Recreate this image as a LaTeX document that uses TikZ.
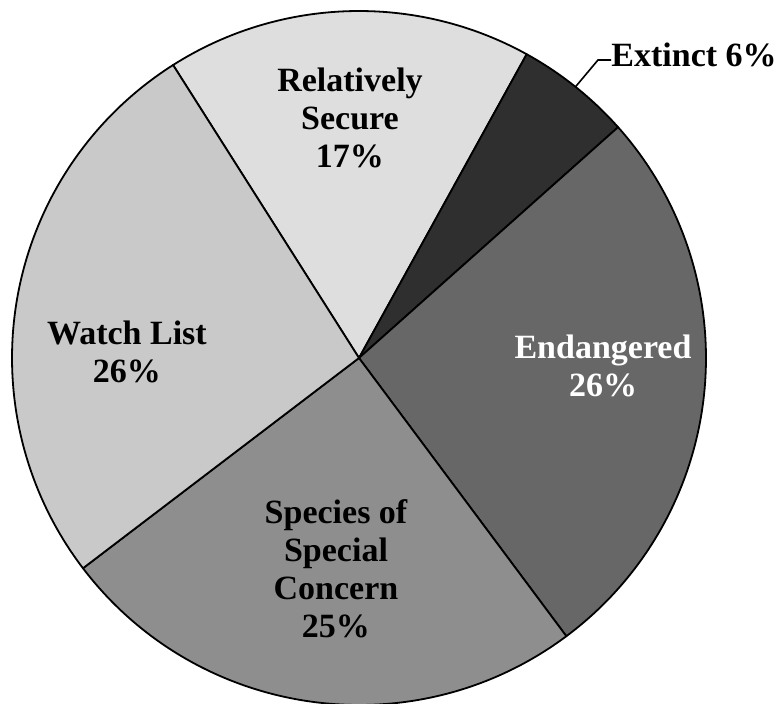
\documentclass[tikz,border=0pt]{standalone}
\usepackage{fontspec}
\setmainfont{Liberation Serif}

\definecolor{secure gray}{HTML}{DEDEDE}
\definecolor{extinct gray}{HTML}{2F2F2F}
\definecolor{endangered gray}{HTML}{676767}
\definecolor{concern gray}{HTML}{8E8E8E}
\definecolor{watch gray}{HTML}{C9C9C9}

\begin{document}
\begin{tikzpicture}[
    x=0.5pt, y=0.5pt,
    slice/.style={draw=black, line width=0.9pt, line join=round},
    pie label/.style={font=\bfseries\fontsize{17}{19}\selectfont, align=center, inner sep=0pt}
  ]
  \useasboundingbox (-359,-346) rectangle (417,358);

  \draw [slice, fill=secure gray]
    (0,0)
    -- (122.4:347)
    arc [start angle=122.4, end angle=61.1, radius=347]
    -- cycle
  ;

  \draw [slice, fill=extinct gray]
    (0,0)
    -- (61.1:347)
    arc [start angle=61.1, end angle=41.7, radius=347]
    -- cycle
  ;

  \draw [slice, fill=endangered gray]
    (0,0)
    -- (41.7:347)
    arc [start angle=41.7, end angle=-53.3, radius=347]
    -- cycle
  ;

  \draw [slice, fill=concern gray]
    (0,0)
    -- (-53.3:347)
    arc [start angle=-53.3, end angle=-142.7, radius=347]
    -- cycle
  ;

  \draw [slice, fill=watch gray]
    (0,0)
    -- (-142.7:347)
    arc [start angle=-142.7, end angle=-237.6, radius=347]
    -- cycle
  ;

  \node [pie label] (secure label) at (-9,240) {Relatively\\Secure\\17\%};
  \node [pie label] (watch label) at (-232,6) {Watch List\\26\%};
  \node [pie label, text=white] (endangered label) at (244,-8) {Endangered\\26\%};
  \node [pie label] (concern label) at (-23,-211) {Species of\\Special\\Concern\\25\%};
  \node [pie label, anchor=west] (extinct label) at (252,303) {Extinct 6\%};

  \coordinate (extinct edge) at (51.4:347);
  \coordinate (extinct bend) at (239,298);
  \draw [line width=0.8pt]
    (extinct edge)
    -- (extinct bend)
    -- (extinct label.west |- extinct bend)
  ;
\end{tikzpicture}
\end{document}
